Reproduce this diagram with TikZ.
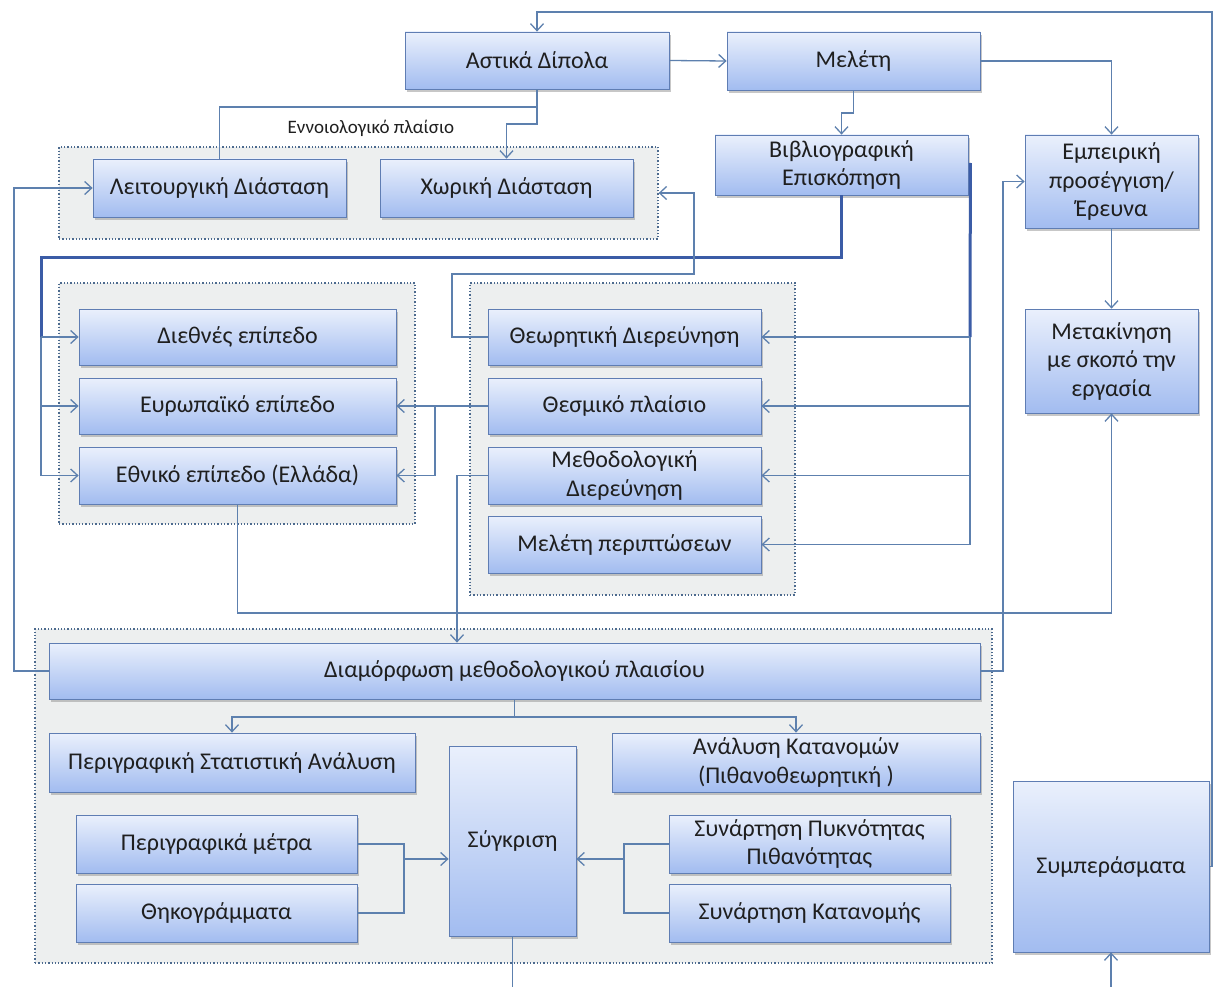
\documentclass[tikz,border=0pt]{standalone}
\usepackage{fontspec}
\setmainfont{Carlito}
\usetikzlibrary{arrows.meta,shadows,calc}
\definecolor{boxtop}{HTML}{EAF0FC}
\definecolor{boxbot}{HTML}{A2BCF0}
\definecolor{boxline}{HTML}{5F7DB3}
\definecolor{grpfill}{HTML}{EDEFEF}
\definecolor{grpline}{HTML}{4C6A8E}
\definecolor{conc}{HTML}{5D80AE}
\definecolor{thickc}{HTML}{3B5CA6}
\definecolor{txt}{HTML}{1F1F1F}
\newcommand\bx[6]{\node[box, minimum width=#4pt, minimum height=#5pt] (#1) at (#2,#3) {#6};}
\newcommand\grpbox[5]{\node[grp, minimum width=#4pt, minimum height=#5pt] (#1) at (#2,#3) {};}
\begin{document}
\begin{tikzpicture}[x=1pt,y=-1pt,
  box/.style={draw=boxline, line width=0.8pt, top color=boxtop, bottom color=boxbot,
    drop shadow={shadow xshift=2pt,shadow yshift=-3pt,fill=black!40,opacity=0.55},
    text=txt, font=\fontsize{24}{28.5}\selectfont, align=center, inner sep=0pt},
  grp/.style={draw=grpline, line width=1.3pt, dotted, fill=grpfill, inner sep=0pt},
  con/.style={draw=conc, line width=1.3pt},
  arr/.style={con, -{Straight Barb[length=7pt,width=13pt]}},
  thk/.style={draw=thickc, line width=3pt},
  lbl/.style={text=txt, font=\fontsize{19}{22}\selectfont, inner sep=0pt}
]
\useasboundingbox (0,0) rectangle (1218,987);
\fill[white] (0,0) rectangle (1218,987);

% groups
\grpbox{g1}{358.5}{193}{599}{92}
\grpbox{g2}{237}{403.5}{356}{241}
\grpbox{g3}{632.5}{439}{325}{312}
\grpbox{g4}{513.5}{796}{957}{334}

% boxes
\bx{ad}{537}{60.5}{264}{57}{Αστικά Δίπολα}
\bx{mel}{853.5}{61}{253}{58}{Μελέτη}
\bx{bib}{841.5}{165}{253}{60}{Βιβλιογραφική\\Επισκόπηση}
\bx{emp}{1111.5}{181.5}{173}{93}{Εμπειρική\\προσέγγιση/\\Έρευνα}
\bx{met}{1111.5}{361}{173}{104}{Μετακίνηση\\με σκοπό την\\εργασία}
\bx{lei}{219.5}{188}{253}{58}{Λειτουργική Διάσταση}
\bx{xor}{506.5}{188}{253}{58}{Χωρική Διάσταση}
\bx{die}{237.5}{337}{317}{56}{Διεθνές επίπεδο}
\bx{eur}{237.5}{406}{317}{56}{Ευρωπαϊκό επίπεδο}
\bx{eth}{237.5}{475.5}{317}{57}{Εθνικό επίπεδο (Ελλάδα)}
\bx{the}{624.5}{337}{273}{56}{Θεωρητική Διερεύνηση}
\bx{thes}{624.5}{406}{273}{56}{Θεσμικό πλαίσιο}
\bx{mth}{624.5}{475.5}{273}{57}{Μεθοδολογική\\Διερεύνηση}
\bx{mp}{624.5}{544.5}{273}{57}{Μελέτη περιπτώσεων}
\bx{dia}{514.5}{671}{931}{56}{Διαμόρφωση μεθοδολογικού πλαισίου}
\bx{pst}{232}{762.5}{366}{59}{Περιγραφική Στατιστική Ανάλυση}
\bx{ak}{796}{762.5}{368}{59}{Ανάλυση Κατανομών\\(Πιθανοθεωρητική )}
\bx{syg}{512.5}{841}{127}{190}{Σύγκριση}
\bx{pm}{216.5}{844}{281}{58}{Περιγραφικά μέτρα}
\bx{thg}{216.5}{913}{281}{58}{Θηκογράμματα}
\bx{sp}{809.5}{844}{281}{58}{Συνάρτηση Πυκνότητας\\Πιθανότητας}
\bx{sk}{809.5}{913}{281}{58}{Συνάρτηση Κατανομής}
\bx{sym}{1111}{866.5}{196}{171}{Συμπεράσματα}

\node[lbl] (lab) at (371,128) {Εννοιολογικό πλαίσιο};

% connectors
\draw[arr] (sym.east) -- (1212,866.5) -- (1212,12) -| (ad.north);
\draw[arr] (ad.east) -- (mel.west);
\draw[con] (ad.south) -- (537,107) -| (lei.north);
\draw[arr] (ad.south) -- (537,124) -| (xor.north);
\draw[arr] (mel.south) -- (853.5,113) -| (bib.north);
\draw[arr] (mel.east) -| (emp.north);
\draw[arr] (emp.south) -- (met.north);

\draw[thk] (bib.south) -- (841.5,257) -| (41,337);
\draw[con] (41,337) -- (41,475.5);
\draw[arr] (41,337) -- (die.west);
\draw[arr] (41,406) -- (eur.west);
\draw[arr] (41,475.5) -- (eth.west);

\draw[thk] (bib.east) ++(2,-2) -- (970,337);
\draw[con] (970,337) -- (970,544.5);
\draw[arr] (970,337) -- (the.east);
\draw[arr] (970,406) -- (thes.east);
\draw[arr] (970,475.5) -- (mth.east);
\draw[arr] (970,544.5) -- (mp.east);

\draw[arr] (the.west) -- (452,337) -- (452,274) -- (694,274) -- (694,193) -- (g1.east);
\draw[arr] (thes.west) -- (eur.east);
\draw[arr] (435,406) |- (eth.east);
\draw[arr] (mth.west) -| (dia.north -| 457,0);
\draw[arr] (eth.south) -- (237.5,613) -| (met.south);
\draw[arr] (dia.east) -- (1003,671) |- (emp.west);
\draw[arr] (dia.west) -- (14,671) |- (lei.west);

\draw[arr] (dia.south) -- (514.5,717) -| (pst.north);
\draw[arr] (514.5,717) -| (ak.north);

\draw[con] (pm.east) -- (404,844) -- (404,913) -- (thg.east);
\draw[arr] (404,859) -- (syg.west |- 0,859);
\draw[con] (sp.west) -- (624,844) -- (624,913) -- (sk.west);
\draw[arr] (624,859) -- (syg.east |- 0,859);

\draw[con] (syg.south) -- (512.5,987);
\draw[arr] (1111,987) -- (sym.south);
\end{tikzpicture}
\end{document}
